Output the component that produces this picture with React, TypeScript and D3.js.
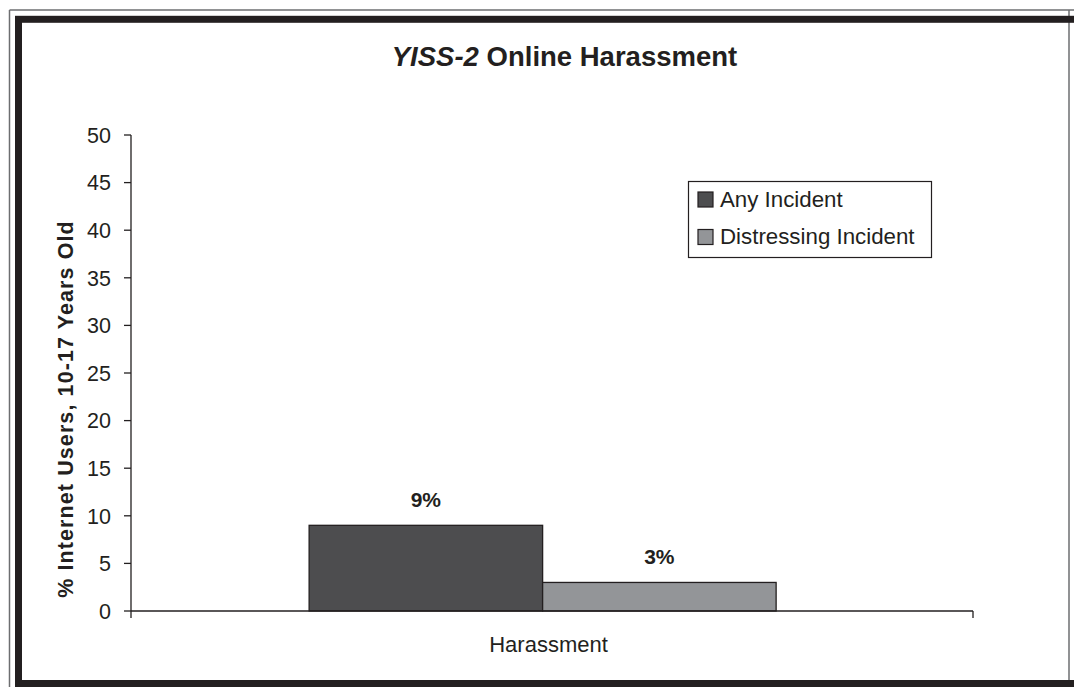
import React from "react";
import * as d3 from "d3";

const categories = ["Harassment"];
const seriesNames = ["Any Incident", "Distressing Incident"];
const seriesValues = [9, 3];
const seriesColors = ["#4d4d4f", "#939598"];
const valueLabels = ["9%", "3%"];
const yTicks = [0, 5, 10, 15, 20, 25, 30, 35, 40, 45, 50];

const W = 1074;
const H = 687;
const INK = "#231f20";
const FONT = "Liberation Sans, Arial, Helvetica, sans-serif";

export default function App() {
  const plotLeft = 131;
  const plotRight = 973;
  const plotTop = 135;
  const plotBottom = 611;

  const y = d3.scaleLinear().domain([0, 50]).range([plotBottom, plotTop]);
  const x0 = d3
    .scaleBand<string>()
    .domain(categories)
    .range([plotLeft, plotRight])
    .paddingInner(0)
    .paddingOuter(0.4015)
    .align(0.475);
  const x1 = d3
    .scaleBand<string>()
    .domain(seriesNames)
    .range([0, x0.bandwidth()])
    .padding(0);

  const cat = categories[0];
  const gx = x0(cat) as number;

  return (
    <svg
      width={W}
      height={H}
      viewBox={`0 0 ${W} ${H}`}
      style={{ position: "absolute", left: 0, top: 0, background: "#fff" }}
      fontFamily={FONT}
    >
      <rect x={0} y={0} width={W} height={H} fill="#fff" />
      {/* outer thin frame */}
      <line x1={9.5} y1={10} x2={9.5} y2={H} stroke="#6d6e70" strokeWidth={1.5} />
      <line x1={9.5} y1={10} x2={W} y2={10} stroke="#6d6e70" strokeWidth={1.5} />
      <line x1={1069} y1={10} x2={1069} y2={H} stroke="#6d6e70" strokeWidth={1.5} />
      {/* thick frame */}
      <rect
        x={18.5}
        y={19.3}
        width={W + 20}
        height={664.2}
        fill="none"
        stroke={INK}
        strokeWidth={7}
      />

      {/* title */}
      <text
        x={564.5}
        y={66}
        textAnchor="middle"
        fontSize={27.5}
        fontWeight="bold"
        fill={INK}
      >
        <tspan fontStyle="italic">YISS-2</tspan>
        <tspan> Online Harassment</tspan>
      </text>

      {/* y axis */}
      <line x1={plotLeft} y1={plotTop} x2={plotLeft} y2={plotBottom} stroke={INK} strokeWidth={1.3} />
      {yTicks.map((t) => (
        <g key={t}>
          <line
            x1={plotLeft - 7}
            x2={plotLeft}
            y1={y(t)}
            y2={y(t)}
            stroke={INK}
            strokeWidth={1.3}
          />
          <text
            x={111}
            y={y(t)}
            dy="0.36em"
            textAnchor="end"
            fontSize={21.5}
            fill={INK}
          >
            {t}
          </text>
        </g>
      ))}

      {/* y axis title */}
      <text
        transform={`translate(73,${409}) rotate(-90)`}
        textAnchor="middle"
        fontSize={21.5}
        fontWeight="bold"
        fill={INK}
        letterSpacing={1.1}
      >
        % Internet Users, 10-17 Years Old
      </text>

      {/* bars */}
      {seriesNames.map((s, i) => {
        const bx = gx + (x1(s) as number);
        const v = seriesValues[i];
        return (
          <g key={s}>
            <rect
              x={bx}
              y={y(v)}
              width={x1.bandwidth()}
              height={y(0) - y(v)}
              fill={seriesColors[i]}
              stroke={INK}
              strokeWidth={1.3}
            />
            <text
              x={bx + x1.bandwidth() / 2}
              y={y(v) - 18.5}
              textAnchor="middle"
              fontSize={21}
              fontWeight="bold"
              fill={INK}
            >
              {valueLabels[i]}
            </text>
          </g>
        );
      })}

      {/* x axis */}
      <line x1={plotLeft} y1={plotBottom} x2={plotRight} y2={plotBottom} stroke={INK} strokeWidth={1.3} />
      <line x1={plotLeft} y1={plotBottom} x2={plotLeft} y2={plotBottom + 7} stroke={INK} strokeWidth={1.3} />
      <line x1={plotRight} y1={plotBottom} x2={plotRight} y2={plotBottom + 7} stroke={INK} strokeWidth={1.3} />
      <text
        x={548.5}
        y={652}
        textAnchor="middle"
        fontSize={22}
        fill={INK}
      >
        {cat}
      </text>

      {/* legend */}
      <rect x={688.5} y={181.5} width={243} height={76} fill="#fff" stroke={INK} strokeWidth={1.2} />
      {seriesNames.map((s, i) => (
        <g key={s} transform={`translate(698,${192 + i * 37.5})`}>
          <rect x={0} y={0} width={15} height={15} fill={seriesColors[i]} stroke={INK} strokeWidth={1.2} />
          <text x={22} y={14.5} fontSize={22.3} fill={INK}>
            {s}
          </text>
        </g>
      ))}
    </svg>
  );
}
